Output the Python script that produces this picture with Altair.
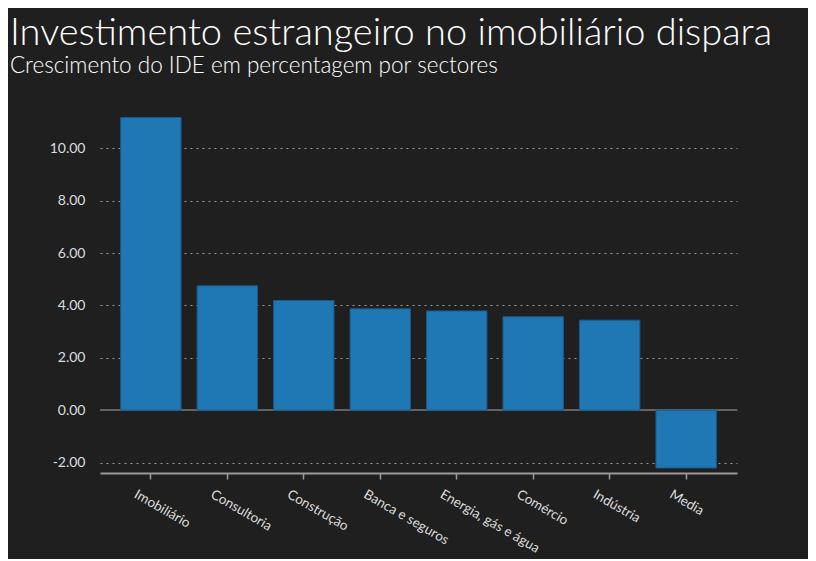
import altair as alt
import pandas as pd

sectors = ["Imobiliário", "Consultoria", "Construção", "Banca e seguros",
           "Energia, gás e água", "Comércio", "Indústria", "Media"]
growth = [11.18, 4.75, 4.19, 3.87, 3.79, 3.57, 3.44, -2.21]

df = pd.DataFrame({"sector": sectors, "growth": growth})

FONT = "Lato"
BG = "#1f1f1f"

base = alt.Chart(df)

bars = base.mark_bar(color="#1f77b4", stroke="#1a5a8a", strokeWidth=1).encode(
    x=alt.X("sector:N", sort=sectors, title=None,
            scale=alt.Scale(paddingInner=0.21, paddingOuter=0.27),
            axis=alt.Axis(labelAngle=30, labelAlign="left", labelBaseline="top",
                          labelOffset=-12, labelFont=FONT, labelFontSize=13.5,
                          labelColor="#dddddd", domainColor="#999999", domainWidth=2,
                          tickColor="#999999", tickSize=6, tickWidth=1.5,
                          labelPadding=8, grid=False)),
    y=alt.Y("growth:Q", title=None,
            scale=alt.Scale(domain=[-2.4, 11.2], nice=False, zero=False),
            axis=alt.Axis(values=[-2, 0, 2, 4, 6, 8, 10],
                          labelExpr="replace(format(datum.value, '.2f'), '\u2212', '-')",
                          ticks=False, domain=False, labelPadding=15,
                          labelFont=FONT, labelFontSize=14, labelColor="#dddddd",
                          grid=True, gridColor="#999999", gridDash=[2, 4],
                          gridWidth=1.2)),
)

zero = base.mark_rule(color="#666666", strokeWidth=1).encode(y=alt.datum(0))

chart = alt.layer(zero, bars).properties(
    width=637, height=356,
    padding={"left": 92, "top": 109, "right": 71, "bottom": 86},
    autosize=alt.AutoSizeParams(type="none"),
    background=BG,
    title=alt.TitleParams(
        text="Investimento estrangeiro no imobiliário dispara",
        subtitle="Crescimento do IDE em percentagem por sectores",
        anchor="start", frame="group", dx=-90, offset=40,
        font=FONT, fontSize=38, fontWeight=300, color="#ffffff",
        subtitleFont=FONT, subtitleFontSize=22.5, subtitleColor="#ffffff",
        subtitleFontWeight=300, subtitlePadding=2,
    ),
).configure_view(stroke=None).configure_axis(gridOpacity=1)

chart.save("out.html", embed_options={"renderer": "svg", "actions": False})
